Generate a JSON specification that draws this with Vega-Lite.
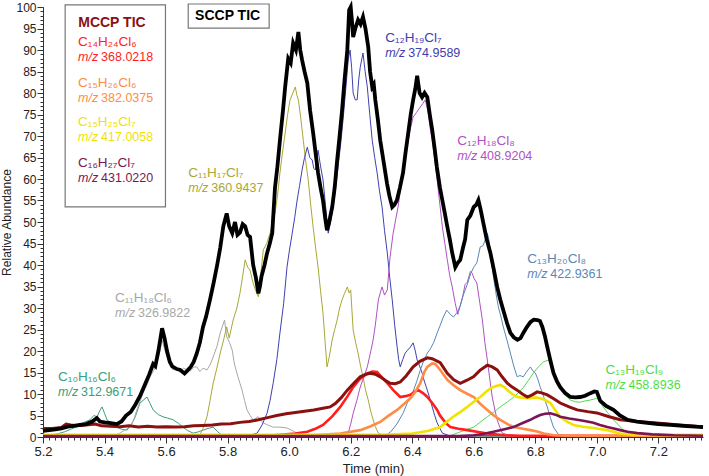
{
"$schema":"https://vega.github.io/schema/vega-lite/v6.json",
"width":660,"height":430,
"autosize":{"type":"none"},
"padding":{"left":43,"top":7,"right":6,"bottom":39},
"background":"white",
"config":{"view":{"stroke":null},"font":"Liberation Sans"},
"resolve":{"axis":{"x":"independent","y":"independent"}},
"datasets":{
"traces":[
{"s":"SCCP","t":5.2,"v":1.4},{"s":"SCCP","t":5.22,"v":1.6},{"s":"SCCP","t":5.24,"v":1.8},{"s":"SCCP","t":5.26,"v":2.0},{"s":"SCCP","t":5.28,"v":2.4},{"s":"SCCP","t":5.3,"v":2.6},{"s":"SCCP","t":5.32,"v":2.8},{"s":"SCCP","t":5.34,"v":3.0},{"s":"SCCP","t":5.36,"v":3.6},{"s":"SCCP","t":5.375,"v":4.4},{"s":"SCCP","t":5.385,"v":3.6},{"s":"SCCP","t":5.4,"v":3.4},{"s":"SCCP","t":5.42,"v":3.2},{"s":"SCCP","t":5.44,"v":3.0},{"s":"SCCP","t":5.455,"v":3.6},{"s":"SCCP","t":5.47,"v":5.0},{"s":"SCCP","t":5.485,"v":5.8},{"s":"SCCP","t":5.5,"v":7.5},{"s":"SCCP","t":5.515,"v":9.5},{"s":"SCCP","t":5.53,"v":12},{"s":"SCCP","t":5.545,"v":14.5},{"s":"SCCP","t":5.558,"v":17},{"s":"SCCP","t":5.565,"v":16.5},{"s":"SCCP","t":5.575,"v":20},{"s":"SCCP","t":5.587,"v":25.3},{"s":"SCCP","t":5.595,"v":23},{"s":"SCCP","t":5.603,"v":20},{"s":"SCCP","t":5.612,"v":17.5},{"s":"SCCP","t":5.62,"v":16.4},{"s":"SCCP","t":5.635,"v":15.8},{"s":"SCCP","t":5.646,"v":15.6},{"s":"SCCP","t":5.66,"v":14.8},{"s":"SCCP","t":5.67,"v":15.5},{"s":"SCCP","t":5.68,"v":16.3},{"s":"SCCP","t":5.69,"v":17.5},{"s":"SCCP","t":5.7,"v":19.5},{"s":"SCCP","t":5.71,"v":22},{"s":"SCCP","t":5.72,"v":25.6},{"s":"SCCP","t":5.73,"v":28},{"s":"SCCP","t":5.743,"v":32},{"s":"SCCP","t":5.755,"v":36},{"s":"SCCP","t":5.766,"v":40},{"s":"SCCP","t":5.776,"v":44},{"s":"SCCP","t":5.786,"v":49},{"s":"SCCP","t":5.797,"v":52},{"s":"SCCP","t":5.805,"v":49},{"s":"SCCP","t":5.815,"v":47.4},{"s":"SCCP","t":5.824,"v":50},{"s":"SCCP","t":5.832,"v":47},{"s":"SCCP","t":5.84,"v":47.5},{"s":"SCCP","t":5.849,"v":49.5},{"s":"SCCP","t":5.857,"v":49},{"s":"SCCP","t":5.865,"v":47},{"s":"SCCP","t":5.873,"v":46.5},{"s":"SCCP","t":5.883,"v":40},{"s":"SCCP","t":5.892,"v":37},{"s":"SCCP","t":5.9,"v":33.4},{"s":"SCCP","t":5.905,"v":35},{"s":"SCCP","t":5.91,"v":37.3},{"s":"SCCP","t":5.92,"v":40},{"s":"SCCP","t":5.928,"v":42.7},{"s":"SCCP","t":5.937,"v":45},{"s":"SCCP","t":5.945,"v":47.4},{"s":"SCCP","t":5.954,"v":58},{"s":"SCCP","t":5.962,"v":63},{"s":"SCCP","t":5.97,"v":69},{"s":"SCCP","t":5.98,"v":76},{"s":"SCCP","t":5.987,"v":81.4},{"s":"SCCP","t":5.997,"v":88},{"s":"SCCP","t":6.005,"v":87},{"s":"SCCP","t":6.013,"v":91.6},{"s":"SCCP","t":6.022,"v":90},{"s":"SCCP","t":6.03,"v":94.2},{"s":"SCCP","t":6.036,"v":90},{"s":"SCCP","t":6.042,"v":87.7},{"s":"SCCP","t":6.05,"v":85},{"s":"SCCP","t":6.059,"v":82.3},{"s":"SCCP","t":6.068,"v":76},{"s":"SCCP","t":6.078,"v":70.7},{"s":"SCCP","t":6.086,"v":66},{"s":"SCCP","t":6.094,"v":61.4},{"s":"SCCP","t":6.102,"v":58},{"s":"SCCP","t":6.11,"v":55},{"s":"SCCP","t":6.117,"v":51},{"s":"SCCP","t":6.123,"v":48.1},{"s":"SCCP","t":6.13,"v":50},{"s":"SCCP","t":6.14,"v":53.5},{"s":"SCCP","t":6.148,"v":58},{"s":"SCCP","t":6.156,"v":64.4},{"s":"SCCP","t":6.164,"v":70},{"s":"SCCP","t":6.172,"v":76},{"s":"SCCP","t":6.18,"v":83},{"s":"SCCP","t":6.189,"v":90},{"s":"SCCP","t":6.195,"v":99.3},{"s":"SCCP","t":6.2,"v":100},{"s":"SCCP","t":6.205,"v":96},{"s":"SCCP","t":6.208,"v":93},{"s":"SCCP","t":6.215,"v":95},{"s":"SCCP","t":6.224,"v":97},{"s":"SCCP","t":6.232,"v":96},{"s":"SCCP","t":6.24,"v":97.7},{"s":"SCCP","t":6.248,"v":95},{"s":"SCCP","t":6.257,"v":90.7},{"s":"SCCP","t":6.263,"v":85},{"s":"SCCP","t":6.27,"v":81.4},{"s":"SCCP","t":6.275,"v":82},{"s":"SCCP","t":6.28,"v":78.4},{"s":"SCCP","t":6.288,"v":74},{"s":"SCCP","t":6.296,"v":69},{"s":"SCCP","t":6.307,"v":64},{"s":"SCCP","t":6.318,"v":59},{"s":"SCCP","t":6.326,"v":56},{"s":"SCCP","t":6.335,"v":53.5},{"s":"SCCP","t":6.342,"v":54},{"s":"SCCP","t":6.35,"v":55},{"s":"SCCP","t":6.36,"v":58},{"s":"SCCP","t":6.37,"v":61.4},{"s":"SCCP","t":6.378,"v":66},{"s":"SCCP","t":6.387,"v":70.7},{"s":"SCCP","t":6.395,"v":75},{"s":"SCCP","t":6.403,"v":78.4},{"s":"SCCP","t":6.41,"v":81},{"s":"SCCP","t":6.416,"v":84},{"s":"SCCP","t":6.424,"v":80},{"s":"SCCP","t":6.432,"v":79},{"s":"SCCP","t":6.44,"v":80},{"s":"SCCP","t":6.449,"v":79},{"s":"SCCP","t":6.457,"v":75},{"s":"SCCP","t":6.465,"v":71.4},{"s":"SCCP","t":6.473,"v":67},{"s":"SCCP","t":6.48,"v":62.8},{"s":"SCCP","t":6.49,"v":58},{"s":"SCCP","t":6.498,"v":55},{"s":"SCCP","t":6.506,"v":52},{"s":"SCCP","t":6.514,"v":48.9},{"s":"SCCP","t":6.522,"v":46},{"s":"SCCP","t":6.53,"v":42.8},{"s":"SCCP","t":6.54,"v":39.5},{"s":"SCCP","t":6.548,"v":40.5},{"s":"SCCP","t":6.556,"v":41.2},{"s":"SCCP","t":6.565,"v":44},{"s":"SCCP","t":6.572,"v":46},{"s":"SCCP","t":6.579,"v":50.5},{"s":"SCCP","t":6.589,"v":51.5},{"s":"SCCP","t":6.6,"v":53.5},{"s":"SCCP","t":6.608,"v":54},{"s":"SCCP","t":6.615,"v":55.1},{"s":"SCCP","t":6.622,"v":53},{"s":"SCCP","t":6.631,"v":49.8},{"s":"SCCP","t":6.642,"v":46},{"s":"SCCP","t":6.654,"v":42.8},{"s":"SCCP","t":6.665,"v":39},{"s":"SCCP","t":6.676,"v":34.9},{"s":"SCCP","t":6.686,"v":32},{"s":"SCCP","t":6.696,"v":29.5},{"s":"SCCP","t":6.708,"v":26.5},{"s":"SCCP","t":6.719,"v":24.2},{"s":"SCCP","t":6.73,"v":23.2},{"s":"SCCP","t":6.742,"v":22.6},{"s":"SCCP","t":6.752,"v":23},{"s":"SCCP","t":6.761,"v":24.2},{"s":"SCCP","t":6.772,"v":25.5},{"s":"SCCP","t":6.784,"v":26.7},{"s":"SCCP","t":6.795,"v":27.3},{"s":"SCCP","t":6.807,"v":27.2},{"s":"SCCP","t":6.815,"v":27},{"s":"SCCP","t":6.823,"v":25.6},{"s":"SCCP","t":6.831,"v":23.5},{"s":"SCCP","t":6.839,"v":20.9},{"s":"SCCP","t":6.849,"v":17.8},{"s":"SCCP","t":6.859,"v":14.9},{"s":"SCCP","t":6.87,"v":13},{"s":"SCCP","t":6.881,"v":11.6},{"s":"SCCP","t":6.897,"v":10.2},{"s":"SCCP","t":6.914,"v":9.3},{"s":"SCCP","t":6.93,"v":9.2},{"s":"SCCP","t":6.946,"v":9.3},{"s":"SCCP","t":6.962,"v":9.6},{"s":"SCCP","t":6.979,"v":10.2},{"s":"SCCP","t":6.992,"v":10.6},{"s":"SCCP","t":7.0,"v":10.5},{"s":"SCCP","t":7.011,"v":8.4},{"s":"SCCP","t":7.03,"v":7.2},{"s":"SCCP","t":7.054,"v":6.3},{"s":"SCCP","t":7.075,"v":5.0},{"s":"SCCP","t":7.1,"v":4.0},{"s":"SCCP","t":7.13,"v":3.6},{"s":"SCCP","t":7.164,"v":3.3},{"s":"SCCP","t":7.2,"v":3.0},{"s":"SCCP","t":7.239,"v":2.8},{"s":"SCCP","t":7.28,"v":2.6},{"s":"SCCP","t":7.32,"v":2.4},{"s":"SCCP","t":7.345,"v":2.3},

{"s":"MCCP","t":5.2,"v":2.0},{"s":"MCCP","t":5.23,"v":2.0},{"s":"MCCP","t":5.26,"v":2.2},{"s":"MCCP","t":5.275,"v":3.0},{"s":"MCCP","t":5.29,"v":2.8},{"s":"MCCP","t":5.31,"v":2.6},{"s":"MCCP","t":5.34,"v":2.8},{"s":"MCCP","t":5.37,"v":3.0},{"s":"MCCP","t":5.39,"v":2.6},{"s":"MCCP","t":5.42,"v":2.5},{"s":"MCCP","t":5.45,"v":2.4},{"s":"MCCP","t":5.48,"v":2.6},{"s":"MCCP","t":5.51,"v":2.3},{"s":"MCCP","t":5.54,"v":2.5},{"s":"MCCP","t":5.57,"v":2.3},{"s":"MCCP","t":5.6,"v":2.4},{"s":"MCCP","t":5.63,"v":2.3},{"s":"MCCP","t":5.66,"v":2.4},{"s":"MCCP","t":5.69,"v":2.6},{"s":"MCCP","t":5.72,"v":2.7},{"s":"MCCP","t":5.75,"v":2.8},{"s":"MCCP","t":5.78,"v":3.0},{"s":"MCCP","t":5.81,"v":3.1},{"s":"MCCP","t":5.84,"v":3.4},{"s":"MCCP","t":5.87,"v":3.6},{"s":"MCCP","t":5.9,"v":4.0},{"s":"MCCP","t":5.93,"v":4.5},{"s":"MCCP","t":5.96,"v":5.0},{"s":"MCCP","t":5.99,"v":5.4},{"s":"MCCP","t":6.02,"v":5.7},{"s":"MCCP","t":6.05,"v":6.0},{"s":"MCCP","t":6.08,"v":6.3},{"s":"MCCP","t":6.11,"v":6.7},{"s":"MCCP","t":6.133,"v":7.0},{"s":"MCCP","t":6.15,"v":7.8},{"s":"MCCP","t":6.17,"v":9.2},{"s":"MCCP","t":6.189,"v":10.9},{"s":"MCCP","t":6.21,"v":12.5},{"s":"MCCP","t":6.231,"v":14.0},{"s":"MCCP","t":6.25,"v":14.6},{"s":"MCCP","t":6.263,"v":14.8},{"s":"MCCP","t":6.28,"v":14.6},{"s":"MCCP","t":6.296,"v":14.0},{"s":"MCCP","t":6.312,"v":13.2},{"s":"MCCP","t":6.328,"v":12.5},{"s":"MCCP","t":6.345,"v":12.4},{"s":"MCCP","t":6.361,"v":12.8},{"s":"MCCP","t":6.38,"v":14.2},{"s":"MCCP","t":6.403,"v":16.3},{"s":"MCCP","t":6.425,"v":17.6},{"s":"MCCP","t":6.449,"v":18.4},{"s":"MCCP","t":6.465,"v":18.2},{"s":"MCCP","t":6.491,"v":17.3},{"s":"MCCP","t":6.514,"v":14.8},{"s":"MCCP","t":6.535,"v":13.3},{"s":"MCCP","t":6.556,"v":12.5},{"s":"MCCP","t":6.578,"v":13.2},{"s":"MCCP","t":6.599,"v":14.0},{"s":"MCCP","t":6.62,"v":15.5},{"s":"MCCP","t":6.644,"v":16.7},{"s":"MCCP","t":6.66,"v":16.3},{"s":"MCCP","t":6.676,"v":15.6},{"s":"MCCP","t":6.692,"v":14.0},{"s":"MCCP","t":6.709,"v":12.5},{"s":"MCCP","t":6.725,"v":11.6},{"s":"MCCP","t":6.741,"v":10.9},{"s":"MCCP","t":6.758,"v":10.0},{"s":"MCCP","t":6.774,"v":9.3},{"s":"MCCP","t":6.79,"v":9.8},{"s":"MCCP","t":6.806,"v":10.5},{"s":"MCCP","t":6.823,"v":10.2},{"s":"MCCP","t":6.839,"v":9.8},{"s":"MCCP","t":6.86,"v":8.9},{"s":"MCCP","t":6.881,"v":7.9},{"s":"MCCP","t":6.91,"v":7.0},{"s":"MCCP","t":6.936,"v":6.3},{"s":"MCCP","t":6.97,"v":5.9},{"s":"MCCP","t":7.0,"v":5.6},{"s":"MCCP","t":7.04,"v":4.7},{"s":"MCCP","t":7.076,"v":4.0},{"s":"MCCP","t":7.13,"v":3.6},{"s":"MCCP","t":7.184,"v":3.3},{"s":"MCCP","t":7.25,"v":2.9},{"s":"MCCP","t":7.3,"v":2.6},{"s":"MCCP","t":7.345,"v":2.3},

{"s":"C14H24Cl6","t":5.2,"v":0.3},{"s":"C14H24Cl6","t":5.9,"v":0.3},{"s":"C14H24Cl6","t":5.95,"v":0.4},{"s":"C14H24Cl6","t":5.97,"v":0.5},{"s":"C14H24Cl6","t":6.02,"v":0.8},{"s":"C14H24Cl6","t":6.059,"v":1.2},{"s":"C14H24Cl6","t":6.085,"v":1.9},{"s":"C14H24Cl6","t":6.11,"v":2.8},{"s":"C14H24Cl6","t":6.14,"v":4.8},{"s":"C14H24Cl6","t":6.166,"v":7.0},{"s":"C14H24Cl6","t":6.19,"v":9.5},{"s":"C14H24Cl6","t":6.208,"v":11.6},{"s":"C14H24Cl6","t":6.23,"v":13.5},{"s":"C14H24Cl6","t":6.254,"v":14.8},{"s":"C14H24Cl6","t":6.27,"v":15.2},{"s":"C14H24Cl6","t":6.286,"v":15.1},{"s":"C14H24Cl6","t":6.3,"v":14.0},{"s":"C14H24Cl6","t":6.319,"v":12.5},{"s":"C14H24Cl6","t":6.34,"v":10.8},{"s":"C14H24Cl6","t":6.361,"v":9.3},{"s":"C14H24Cl6","t":6.378,"v":9.5},{"s":"C14H24Cl6","t":6.394,"v":9.8},{"s":"C14H24Cl6","t":6.41,"v":10.6},{"s":"C14H24Cl6","t":6.42,"v":10.9},{"s":"C14H24Cl6","t":6.435,"v":10.2},{"s":"C14H24Cl6","t":6.449,"v":9.3},{"s":"C14H24Cl6","t":6.465,"v":7.9},{"s":"C14H24Cl6","t":6.481,"v":6.3},{"s":"C14H24Cl6","t":6.491,"v":4.9},{"s":"C14H24Cl6","t":6.51,"v":3.2},{"s":"C14H24Cl6","t":6.524,"v":2.3},{"s":"C14H24Cl6","t":6.55,"v":1.9},{"s":"C14H24Cl6","t":6.579,"v":1.6},{"s":"C14H24Cl6","t":6.61,"v":1.2},{"s":"C14H24Cl6","t":6.644,"v":0.8},{"s":"C14H24Cl6","t":6.7,"v":0.4},{"s":"C14H24Cl6","t":6.75,"v":0.3},{"s":"C14H24Cl6","t":7.345,"v":0.3},

{"s":"C15H26Cl6","t":5.2,"v":0.3},{"s":"C15H26Cl6","t":6.05,"v":0.3},{"s":"C15H26Cl6","t":6.1,"v":0.5},{"s":"C15H26Cl6","t":6.166,"v":0.8},{"s":"C15H26Cl6","t":6.231,"v":1.6},{"s":"C15H26Cl6","t":6.265,"v":2.5},{"s":"C15H26Cl6","t":6.296,"v":3.5},{"s":"C15H26Cl6","t":6.32,"v":4.8},{"s":"C15H26Cl6","t":6.351,"v":6.3},{"s":"C15H26Cl6","t":6.375,"v":7.8},{"s":"C15H26Cl6","t":6.394,"v":9.0},{"s":"C15H26Cl6","t":6.41,"v":10.5},{"s":"C15H26Cl6","t":6.426,"v":12.5},{"s":"C15H26Cl6","t":6.44,"v":15.2},{"s":"C15H26Cl6","t":6.449,"v":16.3},{"s":"C15H26Cl6","t":6.465,"v":17.1},{"s":"C15H26Cl6","t":6.475,"v":17.0},{"s":"C15H26Cl6","t":6.491,"v":15.6},{"s":"C15H26Cl6","t":6.514,"v":13.3},{"s":"C15H26Cl6","t":6.535,"v":12.0},{"s":"C15H26Cl6","t":6.556,"v":10.9},{"s":"C15H26Cl6","t":6.58,"v":10.0},{"s":"C15H26Cl6","t":6.6,"v":9.3},{"s":"C15H26Cl6","t":6.62,"v":7.8},{"s":"C15H26Cl6","t":6.644,"v":6.3},{"s":"C15H26Cl6","t":6.665,"v":5.0},{"s":"C15H26Cl6","t":6.686,"v":4.0},{"s":"C15H26Cl6","t":6.71,"v":3.0},{"s":"C15H26Cl6","t":6.73,"v":2.3},{"s":"C15H26Cl6","t":6.76,"v":1.9},{"s":"C15H26Cl6","t":6.784,"v":1.6},{"s":"C15H26Cl6","t":6.81,"v":1.2},{"s":"C15H26Cl6","t":6.827,"v":0.8},{"s":"C15H26Cl6","t":6.86,"v":0.4},{"s":"C15H26Cl6","t":6.9,"v":0.3},{"s":"C15H26Cl6","t":7.345,"v":0.3},

{"s":"C15H25Cl7","t":5.2,"v":0.5},{"s":"C15H25Cl7","t":6.3,"v":0.5},{"s":"C15H25Cl7","t":6.4,"v":0.8},{"s":"C15H25Cl7","t":6.45,"v":1.4},{"s":"C15H25Cl7","t":6.491,"v":2.3},{"s":"C15H25Cl7","t":6.51,"v":3.4},{"s":"C15H25Cl7","t":6.533,"v":4.7},{"s":"C15H25Cl7","t":6.556,"v":5.8},{"s":"C15H25Cl7","t":6.579,"v":7.0},{"s":"C15H25Cl7","t":6.6,"v":8.2},{"s":"C15H25Cl7","t":6.621,"v":9.3},{"s":"C15H25Cl7","t":6.64,"v":10.5},{"s":"C15H25Cl7","t":6.654,"v":11.3},{"s":"C15H25Cl7","t":6.67,"v":11.8},{"s":"C15H25Cl7","t":6.686,"v":12.1},{"s":"C15H25Cl7","t":6.7,"v":11.6},{"s":"C15H25Cl7","t":6.709,"v":10.9},{"s":"C15H25Cl7","t":6.725,"v":10.0},{"s":"C15H25Cl7","t":6.741,"v":9.3},{"s":"C15H25Cl7","t":6.76,"v":9.1},{"s":"C15H25Cl7","t":6.784,"v":9.0},{"s":"C15H25Cl7","t":6.8,"v":9.2},{"s":"C15H25Cl7","t":6.816,"v":9.0},{"s":"C15H25Cl7","t":6.832,"v":8.6},{"s":"C15H25Cl7","t":6.849,"v":7.9},{"s":"C15H25Cl7","t":6.865,"v":6.2},{"s":"C15H25Cl7","t":6.881,"v":4.7},{"s":"C15H25Cl7","t":6.9,"v":3.7},{"s":"C15H25Cl7","t":6.924,"v":2.8},{"s":"C15H25Cl7","t":6.955,"v":2.4},{"s":"C15H25Cl7","t":6.989,"v":2.1},{"s":"C15H25Cl7","t":7.034,"v":1.6},{"s":"C15H25Cl7","t":7.076,"v":0.8},{"s":"C15H25Cl7","t":7.12,"v":0.5},{"s":"C15H25Cl7","t":7.345,"v":0.5},

{"s":"C16H27Cl7","t":5.2,"v":0.2},{"s":"C16H27Cl7","t":6.55,"v":0.2},{"s":"C16H27Cl7","t":6.6,"v":0.4},{"s":"C16H27Cl7","t":6.63,"v":0.7},{"s":"C16H27Cl7","t":6.664,"v":1.2},{"s":"C16H27Cl7","t":6.7,"v":1.8},{"s":"C16H27Cl7","t":6.729,"v":2.3},{"s":"C16H27Cl7","t":6.757,"v":3.2},{"s":"C16H27Cl7","t":6.784,"v":4.0},{"s":"C16H27Cl7","t":6.8,"v":4.6},{"s":"C16H27Cl7","t":6.816,"v":5.1},{"s":"C16H27Cl7","t":6.832,"v":5.4},{"s":"C16H27Cl7","t":6.849,"v":5.5},{"s":"C16H27Cl7","t":6.865,"v":5.2},{"s":"C16H27Cl7","t":6.881,"v":4.7},{"s":"C16H27Cl7","t":6.91,"v":4.3},{"s":"C16H27Cl7","t":6.936,"v":4.0},{"s":"C16H27Cl7","t":6.96,"v":3.7},{"s":"C16H27Cl7","t":6.989,"v":3.3},{"s":"C16H27Cl7","t":7.01,"v":2.8},{"s":"C16H27Cl7","t":7.034,"v":2.3},{"s":"C16H27Cl7","t":7.055,"v":2.0},{"s":"C16H27Cl7","t":7.076,"v":1.6},{"s":"C16H27Cl7","t":7.1,"v":1.2},{"s":"C16H27Cl7","t":7.132,"v":0.9},{"s":"C16H27Cl7","t":7.18,"v":0.6},{"s":"C16H27Cl7","t":7.25,"v":0.4},{"s":"C16H27Cl7","t":7.345,"v":0.3},

{"s":"C10H16Cl6","t":5.2,"v":0.6},{"s":"C10H16Cl6","t":5.23,"v":0.5},{"s":"C10H16Cl6","t":5.25,"v":0.8},{"s":"C10H16Cl6","t":5.27,"v":1.2},{"s":"C10H16Cl6","t":5.29,"v":1.8},{"s":"C10H16Cl6","t":5.31,"v":2.4},{"s":"C10H16Cl6","t":5.33,"v":3.3},{"s":"C10H16Cl6","t":5.353,"v":4.0},{"s":"C10H16Cl6","t":5.365,"v":5.0},{"s":"C10H16Cl6","t":5.376,"v":4.7},{"s":"C10H16Cl6","t":5.385,"v":6.2},{"s":"C10H16Cl6","t":5.392,"v":7.0},{"s":"C10H16Cl6","t":5.4,"v":5.5},{"s":"C10H16Cl6","t":5.408,"v":4.0},{"s":"C10H16Cl6","t":5.425,"v":3.0},{"s":"C10H16Cl6","t":5.44,"v":2.3},{"s":"C10H16Cl6","t":5.455,"v":1.8},{"s":"C10H16Cl6","t":5.473,"v":1.6},{"s":"C10H16Cl6","t":5.488,"v":3.0},{"s":"C10H16Cl6","t":5.5,"v":4.7},{"s":"C10H16Cl6","t":5.515,"v":7.9},{"s":"C10H16Cl6","t":5.525,"v":8.5},{"s":"C10H16Cl6","t":5.538,"v":9.3},{"s":"C10H16Cl6","t":5.548,"v":7.8},{"s":"C10H16Cl6","t":5.558,"v":6.3},{"s":"C10H16Cl6","t":5.575,"v":5.2},{"s":"C10H16Cl6","t":5.59,"v":4.7},{"s":"C10H16Cl6","t":5.605,"v":4.4},{"s":"C10H16Cl6","t":5.623,"v":4.0},{"s":"C10H16Cl6","t":5.64,"v":3.2},{"s":"C10H16Cl6","t":5.655,"v":2.3},{"s":"C10H16Cl6","t":5.67,"v":1.5},{"s":"C10H16Cl6","t":5.688,"v":0.9},{"s":"C10H16Cl6","t":5.705,"v":1.2},{"s":"C10H16Cl6","t":5.72,"v":1.6},{"s":"C10H16Cl6","t":5.737,"v":2.0},{"s":"C10H16Cl6","t":5.753,"v":2.3},{"s":"C10H16Cl6","t":5.768,"v":1.2},{"s":"C10H16Cl6","t":5.78,"v":0.5},{"s":"C10H16Cl6","t":5.82,"v":0.2},{"s":"C10H16Cl6","t":7.345,"v":0.2},

{"s":"C11H18Cl6","t":5.2,"v":0.2},{"s":"C11H18Cl6","t":5.43,"v":0.3},{"s":"C11H18Cl6","t":5.45,"v":0.9},{"s":"C11H18Cl6","t":5.465,"v":1.6},{"s":"C11H18Cl6","t":5.483,"v":2.3},{"s":"C11H18Cl6","t":5.495,"v":4.0},{"s":"C11H18Cl6","t":5.505,"v":6.3},{"s":"C11H18Cl6","t":5.515,"v":8.2},{"s":"C11H18Cl6","t":5.525,"v":10.2},{"s":"C11H18Cl6","t":5.537,"v":12},{"s":"C11H18Cl6","t":5.548,"v":14.0},{"s":"C11H18Cl6","t":5.56,"v":15.5},{"s":"C11H18Cl6","t":5.57,"v":17.1},{"s":"C11H18Cl6","t":5.58,"v":20},{"s":"C11H18Cl6","t":5.587,"v":22.6},{"s":"C11H18Cl6","t":5.595,"v":20.5},{"s":"C11H18Cl6","t":5.603,"v":18.6},{"s":"C11H18Cl6","t":5.613,"v":16.8},{"s":"C11H18Cl6","t":5.623,"v":15.6},{"s":"C11H18Cl6","t":5.635,"v":16.0},{"s":"C11H18Cl6","t":5.645,"v":15.2},{"s":"C11H18Cl6","t":5.657,"v":16.0},{"s":"C11H18Cl6","t":5.668,"v":15.6},{"s":"C11H18Cl6","t":5.68,"v":15.4},{"s":"C11H18Cl6","t":5.69,"v":16.3},{"s":"C11H18Cl6","t":5.7,"v":16.3},{"s":"C11H18Cl6","t":5.71,"v":15.2},{"s":"C11H18Cl6","t":5.72,"v":16.0},{"s":"C11H18Cl6","t":5.733,"v":15.6},{"s":"C11H18Cl6","t":5.743,"v":16.8},{"s":"C11H18Cl6","t":5.753,"v":18.6},{"s":"C11H18Cl6","t":5.765,"v":21},{"s":"C11H18Cl6","t":5.776,"v":24.2},{"s":"C11H18Cl6","t":5.79,"v":27.2},{"s":"C11H18Cl6","t":5.797,"v":23.3},{"s":"C11H18Cl6","t":5.806,"v":22},{"s":"C11H18Cl6","t":5.815,"v":20.2},{"s":"C11H18Cl6","t":5.822,"v":17},{"s":"C11H18Cl6","t":5.83,"v":14.9},{"s":"C11H18Cl6","t":5.84,"v":12.5},{"s":"C11H18Cl6","t":5.847,"v":10.9},{"s":"C11H18Cl6","t":5.855,"v":8.5},{"s":"C11H18Cl6","t":5.863,"v":6.3},{"s":"C11H18Cl6","t":5.873,"v":5.0},{"s":"C11H18Cl6","t":5.883,"v":4.0},{"s":"C11H18Cl6","t":5.89,"v":4.3},{"s":"C11H18Cl6","t":5.9,"v":4.7},{"s":"C11H18Cl6","t":5.908,"v":3.8},{"s":"C11H18Cl6","t":5.916,"v":3.3},{"s":"C11H18Cl6","t":5.93,"v":2.8},{"s":"C11H18Cl6","t":5.948,"v":2.3},{"s":"C11H18Cl6","t":5.97,"v":2.3},{"s":"C11H18Cl6","t":5.993,"v":2.1},{"s":"C11H18Cl6","t":6.01,"v":1.5},{"s":"C11H18Cl6","t":6.026,"v":0.9},{"s":"C11H18Cl6","t":6.05,"v":0.3},{"s":"C11H18Cl6","t":7.345,"v":0.2},

{"s":"C11H17Cl7","t":5.2,"v":0.2},{"s":"C11H17Cl7","t":5.7,"v":0.2},{"s":"C11H17Cl7","t":5.71,"v":0.5},{"s":"C11H17Cl7","t":5.72,"v":2.0},{"s":"C11H17Cl7","t":5.733,"v":4.7},{"s":"C11H17Cl7","t":5.743,"v":8.5},{"s":"C11H17Cl7","t":5.753,"v":12.5},{"s":"C11H17Cl7","t":5.765,"v":16},{"s":"C11H17Cl7","t":5.776,"v":19.5},{"s":"C11H17Cl7","t":5.787,"v":22.6},{"s":"C11H17Cl7","t":5.797,"v":25.6},{"s":"C11H17Cl7","t":5.805,"v":23},{"s":"C11H17Cl7","t":5.818,"v":27.2},{"s":"C11H17Cl7","t":5.83,"v":30},{"s":"C11H17Cl7","t":5.84,"v":33.4},{"s":"C11H17Cl7","t":5.848,"v":37},{"s":"C11H17Cl7","t":5.857,"v":41.2},{"s":"C11H17Cl7","t":5.865,"v":39.5},{"s":"C11H17Cl7","t":5.873,"v":38.8},{"s":"C11H17Cl7","t":5.882,"v":36},{"s":"C11H17Cl7","t":5.89,"v":34.2},{"s":"C11H17Cl7","t":5.9,"v":32.6},{"s":"C11H17Cl7","t":5.908,"v":38},{"s":"C11H17Cl7","t":5.916,"v":43.5},{"s":"C11H17Cl7","t":5.927,"v":45},{"s":"C11H17Cl7","t":5.938,"v":47.4},{"s":"C11H17Cl7","t":5.946,"v":49.5},{"s":"C11H17Cl7","t":5.954,"v":52.1},{"s":"C11H17Cl7","t":5.962,"v":56},{"s":"C11H17Cl7","t":5.97,"v":61.4},{"s":"C11H17Cl7","t":5.978,"v":66},{"s":"C11H17Cl7","t":5.987,"v":70.7},{"s":"C11H17Cl7","t":5.995,"v":75},{"s":"C11H17Cl7","t":6.003,"v":78.4},{"s":"C11H17Cl7","t":6.012,"v":80},{"s":"C11H17Cl7","t":6.02,"v":81.4},{"s":"C11H17Cl7","t":6.025,"v":79.5},{"s":"C11H17Cl7","t":6.03,"v":78.4},{"s":"C11H17Cl7","t":6.038,"v":74},{"s":"C11H17Cl7","t":6.046,"v":69},{"s":"C11H17Cl7","t":6.054,"v":64},{"s":"C11H17Cl7","t":6.062,"v":59.8},{"s":"C11H17Cl7","t":6.07,"v":54},{"s":"C11H17Cl7","t":6.078,"v":48.8},{"s":"C11H17Cl7","t":6.086,"v":44},{"s":"C11H17Cl7","t":6.094,"v":39.5},{"s":"C11H17Cl7","t":6.102,"v":34},{"s":"C11H17Cl7","t":6.11,"v":28.8},{"s":"C11H17Cl7","t":6.117,"v":22},{"s":"C11H17Cl7","t":6.123,"v":16.3},{"s":"C11H17Cl7","t":6.13,"v":18.5},{"s":"C11H17Cl7","t":6.14,"v":22.6},{"s":"C11H17Cl7","t":6.148,"v":25},{"s":"C11H17Cl7","t":6.156,"v":27.2},{"s":"C11H17Cl7","t":6.164,"v":30},{"s":"C11H17Cl7","t":6.172,"v":31.9},{"s":"C11H17Cl7","t":6.18,"v":33.4},{"s":"C11H17Cl7","t":6.189,"v":34.9},{"s":"C11H17Cl7","t":6.195,"v":33.5},{"s":"C11H17Cl7","t":6.2,"v":34.2},{"s":"C11H17Cl7","t":6.208,"v":24.9},{"s":"C11H17Cl7","t":6.216,"v":22},{"s":"C11H17Cl7","t":6.224,"v":19.5},{"s":"C11H17Cl7","t":6.232,"v":16.5},{"s":"C11H17Cl7","t":6.24,"v":14.0},{"s":"C11H17Cl7","t":6.248,"v":11},{"s":"C11H17Cl7","t":6.257,"v":8.6},{"s":"C11H17Cl7","t":6.265,"v":6},{"s":"C11H17Cl7","t":6.273,"v":4.0},{"s":"C11H17Cl7","t":6.28,"v":2.4},{"s":"C11H17Cl7","t":6.29,"v":0.9},{"s":"C11H17Cl7","t":6.31,"v":0.3},{"s":"C11H17Cl7","t":7.345,"v":0.2},

{"s":"C12H19Cl7","t":5.2,"v":0.2},{"s":"C12H19Cl7","t":5.85,"v":0.2},{"s":"C12H19Cl7","t":5.875,"v":0.5},{"s":"C12H19Cl7","t":5.896,"v":0.9},{"s":"C12H19Cl7","t":5.912,"v":2.8},{"s":"C12H19Cl7","t":5.928,"v":5.5},{"s":"C12H19Cl7","t":5.938,"v":8.5},{"s":"C12H19Cl7","t":5.948,"v":12.5},{"s":"C12H19Cl7","t":5.96,"v":18},{"s":"C12H19Cl7","t":5.97,"v":24.2},{"s":"C12H19Cl7","t":5.982,"v":31},{"s":"C12H19Cl7","t":5.993,"v":39.5},{"s":"C12H19Cl7","t":6.0,"v":43},{"s":"C12H19Cl7","t":6.01,"v":47.4},{"s":"C12H19Cl7","t":6.018,"v":51},{"s":"C12H19Cl7","t":6.026,"v":55.1},{"s":"C12H19Cl7","t":6.034,"v":58.5},{"s":"C12H19Cl7","t":6.042,"v":62.1},{"s":"C12H19Cl7","t":6.05,"v":65},{"s":"C12H19Cl7","t":6.059,"v":67.4},{"s":"C12H19Cl7","t":6.067,"v":65},{"s":"C12H19Cl7","t":6.075,"v":64.4},{"s":"C12H19Cl7","t":6.08,"v":62.5},{"s":"C12H19Cl7","t":6.085,"v":62.1},{"s":"C12H19Cl7","t":6.094,"v":66.7},{"s":"C12H19Cl7","t":6.102,"v":63},{"s":"C12H19Cl7","t":6.11,"v":59.8},{"s":"C12H19Cl7","t":6.118,"v":54},{"s":"C12H19Cl7","t":6.127,"v":47.4},{"s":"C12H19Cl7","t":6.135,"v":50},{"s":"C12H19Cl7","t":6.143,"v":53.5},{"s":"C12H19Cl7","t":6.151,"v":58},{"s":"C12H19Cl7","t":6.159,"v":62.8},{"s":"C12H19Cl7","t":6.168,"v":68.5},{"s":"C12H19Cl7","t":6.176,"v":74.4},{"s":"C12H19Cl7","t":6.184,"v":81},{"s":"C12H19Cl7","t":6.192,"v":87.7},{"s":"C12H19Cl7","t":6.198,"v":90},{"s":"C12H19Cl7","t":6.203,"v":86},{"s":"C12H19Cl7","t":6.208,"v":80},{"s":"C12H19Cl7","t":6.215,"v":78.4},{"s":"C12H19Cl7","t":6.221,"v":78.4},{"s":"C12H19Cl7","t":6.226,"v":83},{"s":"C12H19Cl7","t":6.231,"v":86},{"s":"C12H19Cl7","t":6.24,"v":89.3},{"s":"C12H19Cl7","t":6.247,"v":85},{"s":"C12H19Cl7","t":6.254,"v":81.4},{"s":"C12H19Cl7","t":6.262,"v":75},{"s":"C12H19Cl7","t":6.27,"v":69},{"s":"C12H19Cl7","t":6.278,"v":65},{"s":"C12H19Cl7","t":6.286,"v":61.4},{"s":"C12H19Cl7","t":6.294,"v":57},{"s":"C12H19Cl7","t":6.302,"v":53.5},{"s":"C12H19Cl7","t":6.31,"v":48},{"s":"C12H19Cl7","t":6.319,"v":42.8},{"s":"C12H19Cl7","t":6.327,"v":37},{"s":"C12H19Cl7","t":6.335,"v":31.9},{"s":"C12H19Cl7","t":6.343,"v":26},{"s":"C12H19Cl7","t":6.351,"v":20.9},{"s":"C12H19Cl7","t":6.356,"v":18},{"s":"C12H19Cl7","t":6.361,"v":16.3},{"s":"C12H19Cl7","t":6.369,"v":18},{"s":"C12H19Cl7","t":6.377,"v":19.5},{"s":"C12H19Cl7","t":6.385,"v":20.2},{"s":"C12H19Cl7","t":6.394,"v":20.9},{"s":"C12H19Cl7","t":6.403,"v":21.9},{"s":"C12H19Cl7","t":6.41,"v":20},{"s":"C12H19Cl7","t":6.416,"v":17.9},{"s":"C12H19Cl7","t":6.424,"v":16.5},{"s":"C12H19Cl7","t":6.432,"v":14.9},{"s":"C12H19Cl7","t":6.44,"v":12.8},{"s":"C12H19Cl7","t":6.449,"v":10.9},{"s":"C12H19Cl7","t":6.457,"v":9},{"s":"C12H19Cl7","t":6.465,"v":7.0},{"s":"C12H19Cl7","t":6.473,"v":5},{"s":"C12H19Cl7","t":6.481,"v":3.3},{"s":"C12H19Cl7","t":6.49,"v":2},{"s":"C12H19Cl7","t":6.498,"v":0.9},{"s":"C12H19Cl7","t":6.52,"v":0.3},{"s":"C12H19Cl7","t":7.345,"v":0.2},

{"s":"C12H18Cl8","t":5.2,"v":0.2},{"s":"C12H18Cl8","t":6.17,"v":0.2},{"s":"C12H18Cl8","t":6.19,"v":0.5},{"s":"C12H18Cl8","t":6.2,"v":3},{"s":"C12H18Cl8","t":6.208,"v":5.5},{"s":"C12H18Cl8","t":6.22,"v":8.5},{"s":"C12H18Cl8","t":6.231,"v":11.6},{"s":"C12H18Cl8","t":6.243,"v":14},{"s":"C12H18Cl8","t":6.254,"v":16.3},{"s":"C12H18Cl8","t":6.264,"v":19.5},{"s":"C12H18Cl8","t":6.273,"v":22.6},{"s":"C12H18Cl8","t":6.28,"v":26},{"s":"C12H18Cl8","t":6.29,"v":31.9},{"s":"C12H18Cl8","t":6.296,"v":33.5},{"s":"C12H18Cl8","t":6.302,"v":34.9},{"s":"C12H18Cl8","t":6.31,"v":33},{"s":"C12H18Cl8","t":6.319,"v":34.2},{"s":"C12H18Cl8","t":6.328,"v":41.9},{"s":"C12H18Cl8","t":6.338,"v":47.4},{"s":"C12H18Cl8","t":6.346,"v":50.5},{"s":"C12H18Cl8","t":6.354,"v":53.5},{"s":"C12H18Cl8","t":6.362,"v":57.5},{"s":"C12H18Cl8","t":6.37,"v":61.4},{"s":"C12H18Cl8","t":6.378,"v":65},{"s":"C12H18Cl8","t":6.387,"v":69},{"s":"C12H18Cl8","t":6.395,"v":72},{"s":"C12H18Cl8","t":6.403,"v":74.4},{"s":"C12H18Cl8","t":6.414,"v":75.5},{"s":"C12H18Cl8","t":6.426,"v":76.7},{"s":"C12H18Cl8","t":6.434,"v":77.5},{"s":"C12H18Cl8","t":6.442,"v":78.4},{"s":"C12H18Cl8","t":6.447,"v":77},{"s":"C12H18Cl8","t":6.452,"v":75.3},{"s":"C12H18Cl8","t":6.458,"v":72},{"s":"C12H18Cl8","t":6.465,"v":69},{"s":"C12H18Cl8","t":6.473,"v":64.5},{"s":"C12H18Cl8","t":6.481,"v":59.8},{"s":"C12H18Cl8","t":6.49,"v":54},{"s":"C12H18Cl8","t":6.498,"v":48.8},{"s":"C12H18Cl8","t":6.506,"v":45},{"s":"C12H18Cl8","t":6.514,"v":41.2},{"s":"C12H18Cl8","t":6.522,"v":37.5},{"s":"C12H18Cl8","t":6.53,"v":34.9},{"s":"C12H18Cl8","t":6.54,"v":31},{"s":"C12H18Cl8","t":6.548,"v":28.5},{"s":"C12H18Cl8","t":6.556,"v":30.5},{"s":"C12H18Cl8","t":6.565,"v":33},{"s":"C12H18Cl8","t":6.572,"v":35.5},{"s":"C12H18Cl8","t":6.579,"v":36},{"s":"C12H18Cl8","t":6.589,"v":38.5},{"s":"C12H18Cl8","t":6.595,"v":38.1},{"s":"C12H18Cl8","t":6.6,"v":37},{"s":"C12H18Cl8","t":6.61,"v":35.8},{"s":"C12H18Cl8","t":6.62,"v":31},{"s":"C12H18Cl8","t":6.628,"v":27.2},{"s":"C12H18Cl8","t":6.636,"v":22},{"s":"C12H18Cl8","t":6.644,"v":17.9},{"s":"C12H18Cl8","t":6.652,"v":13.5},{"s":"C12H18Cl8","t":6.66,"v":9.3},{"s":"C12H18Cl8","t":6.668,"v":6.5},{"s":"C12H18Cl8","t":6.676,"v":4.0},{"s":"C12H18Cl8","t":6.685,"v":2.2},{"s":"C12H18Cl8","t":6.693,"v":0.9},{"s":"C12H18Cl8","t":6.72,"v":0.3},{"s":"C12H18Cl8","t":7.345,"v":0.2},

{"s":"C13H20Cl8","t":5.2,"v":0.2},{"s":"C13H20Cl8","t":6.31,"v":0.2},{"s":"C13H20Cl8","t":6.33,"v":1.2},{"s":"C13H20Cl8","t":6.35,"v":3},{"s":"C13H20Cl8","t":6.37,"v":5.5},{"s":"C13H20Cl8","t":6.384,"v":7.9},{"s":"C13H20Cl8","t":6.4,"v":10},{"s":"C13H20Cl8","t":6.415,"v":13},{"s":"C13H20Cl8","t":6.426,"v":15.5},{"s":"C13H20Cl8","t":6.436,"v":17.5},{"s":"C13H20Cl8","t":6.449,"v":19.5},{"s":"C13H20Cl8","t":6.459,"v":20.5},{"s":"C13H20Cl8","t":6.47,"v":22},{"s":"C13H20Cl8","t":6.481,"v":24.2},{"s":"C13H20Cl8","t":6.491,"v":26},{"s":"C13H20Cl8","t":6.501,"v":27.9},{"s":"C13H20Cl8","t":6.512,"v":29.5},{"s":"C13H20Cl8","t":6.524,"v":28.5},{"s":"C13H20Cl8","t":6.534,"v":27.9},{"s":"C13H20Cl8","t":6.546,"v":29},{"s":"C13H20Cl8","t":6.556,"v":30.5},{"s":"C13H20Cl8","t":6.566,"v":33},{"s":"C13H20Cl8","t":6.579,"v":35.5},{"s":"C13H20Cl8","t":6.59,"v":38},{"s":"C13H20Cl8","t":6.6,"v":39.5},{"s":"C13H20Cl8","t":6.61,"v":40.5},{"s":"C13H20Cl8","t":6.621,"v":44.2},{"s":"C13H20Cl8","t":6.63,"v":44.5},{"s":"C13H20Cl8","t":6.637,"v":45.8},{"s":"C13H20Cl8","t":6.644,"v":47.4},{"s":"C13H20Cl8","t":6.649,"v":46},{"s":"C13H20Cl8","t":6.654,"v":42.8},{"s":"C13H20Cl8","t":6.664,"v":37.3},{"s":"C13H20Cl8","t":6.672,"v":33.5},{"s":"C13H20Cl8","t":6.68,"v":30.2},{"s":"C13H20Cl8","t":6.69,"v":27.5},{"s":"C13H20Cl8","t":6.696,"v":25.6},{"s":"C13H20Cl8","t":6.708,"v":22.5},{"s":"C13H20Cl8","t":6.719,"v":19.5},{"s":"C13H20Cl8","t":6.73,"v":16.5},{"s":"C13H20Cl8","t":6.741,"v":14.0},{"s":"C13H20Cl8","t":6.75,"v":14.3},{"s":"C13H20Cl8","t":6.761,"v":14.0},{"s":"C13H20Cl8","t":6.772,"v":15.2},{"s":"C13H20Cl8","t":6.784,"v":16.3},{"s":"C13H20Cl8","t":6.792,"v":15.4},{"s":"C13H20Cl8","t":6.8,"v":14.9},{"s":"C13H20Cl8","t":6.808,"v":13.5},{"s":"C13H20Cl8","t":6.816,"v":11.6},{"s":"C13H20Cl8","t":6.828,"v":9.2},{"s":"C13H20Cl8","t":6.839,"v":7.0},{"s":"C13H20Cl8","t":6.849,"v":4.5},{"s":"C13H20Cl8","t":6.859,"v":2.3},{"s":"C13H20Cl8","t":6.875,"v":0.6},{"s":"C13H20Cl8","t":6.9,"v":0.2},{"s":"C13H20Cl8","t":7.345,"v":0.2},

{"s":"C13H19Cl9","t":5.2,"v":0.2},{"s":"C13H19Cl9","t":6.52,"v":0.2},{"s":"C13H19Cl9","t":6.556,"v":1.2},{"s":"C13H19Cl9","t":6.58,"v":1.8},{"s":"C13H19Cl9","t":6.6,"v":2.3},{"s":"C13H19Cl9","t":6.62,"v":3.4},{"s":"C13H19Cl9","t":6.644,"v":4.7},{"s":"C13H19Cl9","t":6.665,"v":5.8},{"s":"C13H19Cl9","t":6.686,"v":7.0},{"s":"C13H19Cl9","t":6.71,"v":8.2},{"s":"C13H19Cl9","t":6.73,"v":9.3},{"s":"C13H19Cl9","t":6.745,"v":10.3},{"s":"C13H19Cl9","t":6.762,"v":11.6},{"s":"C13H19Cl9","t":6.778,"v":13.2},{"s":"C13H19Cl9","t":6.794,"v":14.9},{"s":"C13H19Cl9","t":6.81,"v":16.3},{"s":"C13H19Cl9","t":6.827,"v":17.5},{"s":"C13H19Cl9","t":6.843,"v":17.9},{"s":"C13H19Cl9","t":6.85,"v":17.0},{"s":"C13H19Cl9","t":6.859,"v":15.6},{"s":"C13H19Cl9","t":6.87,"v":13.5},{"s":"C13H19Cl9","t":6.881,"v":11.6},{"s":"C13H19Cl9","t":6.897,"v":9.8},{"s":"C13H19Cl9","t":6.914,"v":8.6},{"s":"C13H19Cl9","t":6.93,"v":8.2},{"s":"C13H19Cl9","t":6.946,"v":8.1},{"s":"C13H19Cl9","t":6.962,"v":8.4},{"s":"C13H19Cl9","t":6.979,"v":8.6},{"s":"C13H19Cl9","t":6.99,"v":8.8},{"s":"C13H19Cl9","t":7.0,"v":9.0},{"s":"C13H19Cl9","t":7.01,"v":8.3},{"s":"C13H19Cl9","t":7.02,"v":7.0},{"s":"C13H19Cl9","t":7.037,"v":5.5},{"s":"C13H19Cl9","t":7.054,"v":4.0},{"s":"C13H19Cl9","t":7.07,"v":2.8},{"s":"C13H19Cl9","t":7.086,"v":1.6},{"s":"C13H19Cl9","t":7.119,"v":0.5},{"s":"C13H19Cl9","t":7.16,"v":0.2},{"s":"C13H19Cl9","t":7.345,"v":0.2}
],
"labels":[
{"s":"C14H24Cl6","f":"C₁₄H₂₄Cl₆","mz":"368.0218","t":5.314,"v":91.9},
{"s":"C15H26Cl6","f":"C₁₅H₂₆Cl₆","mz":"382.0375","t":5.314,"v":82.3},
{"s":"C15H25Cl7","f":"C₁₅H₂₅Cl₇","mz":"417.0058","t":5.314,"v":73.3},
{"s":"C16H27Cl7","f":"C₁₆H₂₇Cl₇","mz":"431.0220","t":5.314,"v":63.7},
{"s":"C11H17Cl7","f":"C₁₁H₁₇Cl₇","mz":"360.9437","t":5.672,"v":61.4},
{"s":"C12H19Cl7","f":"C₁₂H₁₉Cl₇","mz":"374.9589","t":6.312,"v":92.8},
{"s":"C12H18Cl8","f":"C₁₂H₁₈Cl₈","mz":"408.9204","t":6.546,"v":68.8},
{"s":"C13H20Cl8","f":"C₁₃H₂₀Cl₈","mz":"422.9361","t":6.774,"v":41.4},
{"s":"C13H19Cl9","f":"C₁₃H₁₉Cl₉","mz":"458.8936","t":7.028,"v":15.6},
{"s":"C11H18Cl6","f":"C₁₁H₁₈Cl₆","mz":"326.9822","t":5.434,"v":32.3},
{"s":"C10H16Cl6","f":"C₁₀H₁₆Cl₆","mz":"312.9671","t":5.249,"v":14.0}
],
"titles":[
{"s":"MCCP","txt":"MCCP TIC","t":5.424,"v":96.3},
{"s":"SCCP","txt":"SCCP TIC","t":5.8,"v":97.9}
],
"boxes":[
{"t":5.272,"t2":5.598,"v":100.5,"v2":53.5},
{"t":5.672,"t2":5.935,"v":100.7,"v2":95.1}
]
},
"layer":[
{
"data":{"name":"traces"},
"transform":[{"filter":{"field":"s","oneOf":["C10H16Cl6","C11H18Cl6","C11H17Cl7","C12H19Cl7","C12H18Cl8","C13H20Cl8","C13H19Cl9"]}}],
"mark":{"type":"line","strokeWidth":1},
"encoding":{
"x":{"field":"t","type":"quantitative","scale":{"domain":[5.2,7.345],"nice":false,"zero":false},
"axis":{"orient":"bottom","title":"Time (min)","grid":false,"values":[5.2,5.4,5.6,5.8,6.0,6.2,6.4,6.6,6.8,7.0,7.2],"format":".1f",
"labelOverlap":false,"labelFlush":false,"labelFontSize":13,"labelColor":"#222","labelPadding":2,"tickSize":6,
"tickColor":"#333","domainColor":"#333","titleFontSize":13,"titleFontWeight":"normal","titleColor":"#222","titlePadding":4}},
"y":{"field":"v","type":"quantitative","scale":{"domain":[0,100],"nice":false},
"axis":{"orient":"left","title":"Relative Abundance","grid":false,"values":[0,5,10,15,20,25,30,35,40,45,50,55,60,65,70,75,80,85,90,95,100],
"labelOverlap":false,"labelFlush":false,"labelFontSize":12,"labelColor":"#222","labelPadding":1,"tickSize":6,
"tickColor":"#333","domainColor":"#333","titleFontSize":12,"titleFontWeight":"normal","titleColor":"#222","titlePadding":2}},
"color":{"field":"s","type":"nominal","legend":null,
"scale":{"domain":["SCCP","MCCP","C14H24Cl6","C15H26Cl6","C15H25Cl7","C16H27Cl7","C10H16Cl6","C11H18Cl6","C11H17Cl7","C12H19Cl7","C12H18Cl8","C13H20Cl8","C13H19Cl9"],
"range":["#000000","#8B1010","#FF1E1E","#FF8C45","#F2E200","#7D1555","#3A9E78","#A8A8A8","#A8A838","#4040B0","#B050C5","#5A88B5","#4CDD4C"]}}
}
},
{
"data":{"name":"traces"},
"transform":[{"filter":{"field":"s","oneOf":["C16H27Cl7","C15H25Cl7","C15H26Cl6","C14H24Cl6"]}}],
"mark":{"type":"line","strokeWidth":2.6},
"encoding":{
"x":{"field":"t","type":"quantitative","axis":{"orient":"bottom","title":null,"grid":false,"labels":false,"domain":false,"tickSize":3,"tickColor":"#333","values":[5.2,5.22,5.24,5.26,5.28,5.3,5.32,5.34,5.36,5.38,5.4,5.42,5.44,5.46,5.48,5.5,5.52,5.54,5.56,5.58,5.6,5.62,5.64,5.66,5.68,5.7,5.72,5.74,5.76,5.78,5.8,5.82,5.84,5.86,5.88,5.9,5.92,5.94,5.96,5.98,6.0,6.02,6.04,6.06,6.08,6.1,6.12,6.14,6.16,6.18,6.2,6.22,6.24,6.26,6.28,6.3,6.32,6.34,6.36,6.38,6.4,6.42,6.44,6.46,6.48,6.5,6.52,6.54,6.56,6.58,6.6,6.62,6.64,6.66,6.68,6.7,6.72,6.74,6.76,6.78,6.8,6.82,6.84,6.86,6.88,6.9,6.92,6.94,6.96,6.98,7.0,7.02,7.04,7.06,7.08,7.1,7.12,7.14,7.16,7.18,7.2,7.22,7.24,7.26,7.28,7.3,7.32,7.34]}},
"y":{"field":"v","type":"quantitative","axis":{"orient":"left","title":null,"grid":false,"labels":false,"domain":false,"tickSize":3,"tickColor":"#333","values":[0,1,2,3,4,5,6,7,8,9,10,11,12,13,14,15,16,17,18,19,20,21,22,23,24,25,26,27,28,29,30,31,32,33,34,35,36,37,38,39,40,41,42,43,44,45,46,47,48,49,50,51,52,53,54,55,56,57,58,59,60,61,62,63,64,65,66,67,68,69,70,71,72,73,74,75,76,77,78,79,80,81,82,83,84,85,86,87,88,89,90,91,92,93,94,95,96,97,98,99,100]}},
"color":{"field":"s","type":"nominal","legend":null}}
},
{
"data":{"name":"traces"},
"transform":[{"filter":{"field":"s","equal":"MCCP"}}],
"mark":{"type":"line","strokeWidth":3},
"encoding":{"x":{"field":"t","type":"quantitative","axis":null},"y":{"field":"v","type":"quantitative","axis":null},"color":{"field":"s","type":"nominal","legend":null}}
},
{
"data":{"name":"traces"},
"transform":[{"filter":{"field":"s","equal":"SCCP"}}],
"mark":{"type":"line","strokeWidth":3.8},
"encoding":{"x":{"field":"t","type":"quantitative","axis":null},"y":{"field":"v","type":"quantitative","axis":null},"color":{"field":"s","type":"nominal","legend":null}}
},
{
"data":{"name":"boxes"},
"mark":{"type":"rect","fill":null,"fillOpacity":0,"stroke":"#777","strokeWidth":1.2},
"encoding":{"x":{"field":"t","type":"quantitative","axis":null},"x2":{"field":"t2"},"y":{"field":"v","type":"quantitative","axis":null},"y2":{"field":"v2"}}
},
{
"data":{"name":"labels"},
"mark":{"type":"text","align":"left","baseline":"middle","fontSize":13.5},
"encoding":{"x":{"field":"t","type":"quantitative","axis":null},"y":{"field":"v","type":"quantitative","axis":null},"text":{"field":"f"},"color":{"field":"s","type":"nominal","legend":null}}
},
{
"data":{"name":"labels"},
"mark":{"type":"text","align":"left","baseline":"middle","fontSize":12.5,"fontStyle":"italic","text":"m/z","dy":15},
"encoding":{"x":{"field":"t","type":"quantitative","axis":null},"y":{"field":"v","type":"quantitative","axis":null},"color":{"field":"s","type":"nominal","legend":null}}
},
{
"data":{"name":"labels"},
"mark":{"type":"text","align":"left","baseline":"middle","fontSize":12.5,"dx":23,"dy":15},
"encoding":{"x":{"field":"t","type":"quantitative","axis":null},"y":{"field":"v","type":"quantitative","axis":null},"text":{"field":"mz"},"color":{"field":"s","type":"nominal","legend":null}}
},
{
"data":{"name":"titles"},
"mark":{"type":"text","align":"center","baseline":"middle","fontSize":14,"fontWeight":"bold"},
"encoding":{"x":{"field":"t","type":"quantitative","axis":null},"y":{"field":"v","type":"quantitative","axis":null},"text":{"field":"txt"},"color":{"field":"s","type":"nominal","legend":null}}
}
]
}
